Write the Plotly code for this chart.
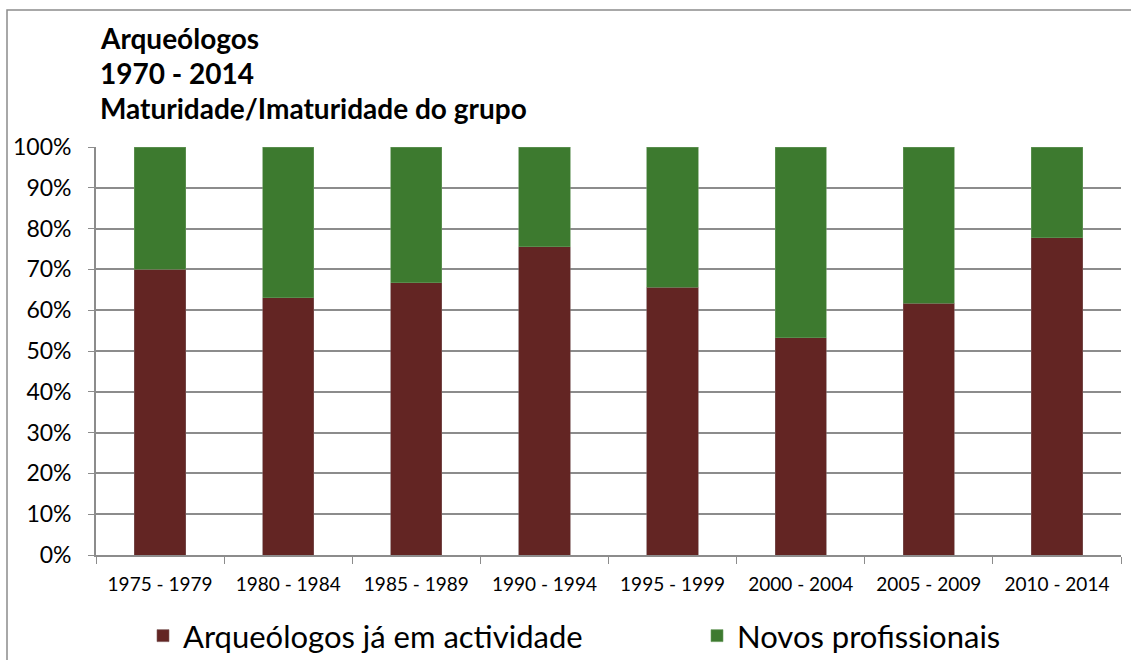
import plotly.graph_objects as go

categories = ["1975 - 1979", "1980 - 1984", "1985 - 1989", "1990 - 1994",
              "1995 - 1999", "2000 - 2004", "2005 - 2009", "2010 - 2014"]
ativos = [70.0, 63.0, 66.7, 75.6, 65.6, 53.3, 61.7, 77.8]
novos = [round(100 - v, 1) for v in ativos]
title_lines = ["Arqueólogos", "1970 - 2014", "Maturidade/Imaturidade do grupo"]
series_names = ["Arqueólogos já em actividade", "Novos profissionais"]

W, H = 1131, 660
L, R, T, B = 96, 1121, 147, 555
FONT = "Lato"

def px(x):
    return (x - L) / (R - L)

def py(y):
    return (B - y) / (B - T)

fig = go.Figure()
fig.add_trace(go.Bar(x=categories, y=[v / 100 for v in ativos], name=series_names[0],
                     legend="legend",
                     marker=dict(color="#632523", line=dict(color="#7d5a5a", width=0.6))))
fig.add_trace(go.Bar(x=categories, y=[v / 100 for v in novos], name=series_names[1],
                     legend="legend2",
                     marker=dict(color="#3d7a2f", line=dict(color="#6a9a60", width=0.6))))

leg_common = dict(orientation="h", xanchor="left", yanchor="middle",
                  font=dict(size=31, family=FONT, color="#000000"),
                  bgcolor="rgba(0,0,0,0)")
fig.update_layout(
    barmode="stack", bargap=0.6,
    width=W, height=H,
    margin=dict(l=L, r=W - R, t=T, b=H - B, pad=0, autoexpand=False),
    paper_bgcolor="white", plot_bgcolor="white",
    font=dict(family=FONT, color="#000000"),
    showlegend=True,
    legend=dict(x=px(143), y=py(636), **leg_common),
    legend2=dict(x=px(697), y=py(636), **leg_common),
)
fig.update_yaxes(range=[0, 1], dtick=0.1, tickformat=".0%", showgrid=True,
                 gridcolor="#8c8c8c", gridwidth=1.8, showline=True, linecolor="#8c8c8c",
                 linewidth=1.8, ticks="outside", ticklen=6, tickcolor="#8c8c8c",
                 tickfont=dict(size=23, family=FONT), ticklabelstandoff=12, zeroline=False)
fig.update_xaxes(showgrid=False, showline=True, linecolor="#8c8c8c", linewidth=1.8,
                 ticks="outside", ticklen=7, tickcolor="#8c8c8c", tickson="boundaries",
                 tickfont=dict(size=19, family=FONT), ticklabelstandoff=11)

ys = [38, 73, 108]
for t, y in zip(title_lines, ys):
    fig.add_annotation(text="<b>%s</b>" % t, xref="paper", yref="paper",
                       x=px(98), y=py(y), xanchor="left", yanchor="middle",
                       showarrow=False, font=dict(size=28, family=FONT, color="#000000"))

fig.add_shape(type="rect", xref="paper", yref="paper",
              x0=px(7), x1=px(1200), y0=py(10), y1=py(700),
              line=dict(color="#8c8c8c", width=1.5), fillcolor="rgba(0,0,0,0)", layer="below")

fig.write_html("out.html", config={"displayModeBar": False},
               post_script="document.body.style.margin='0';document.body.style.overflow='hidden';")
